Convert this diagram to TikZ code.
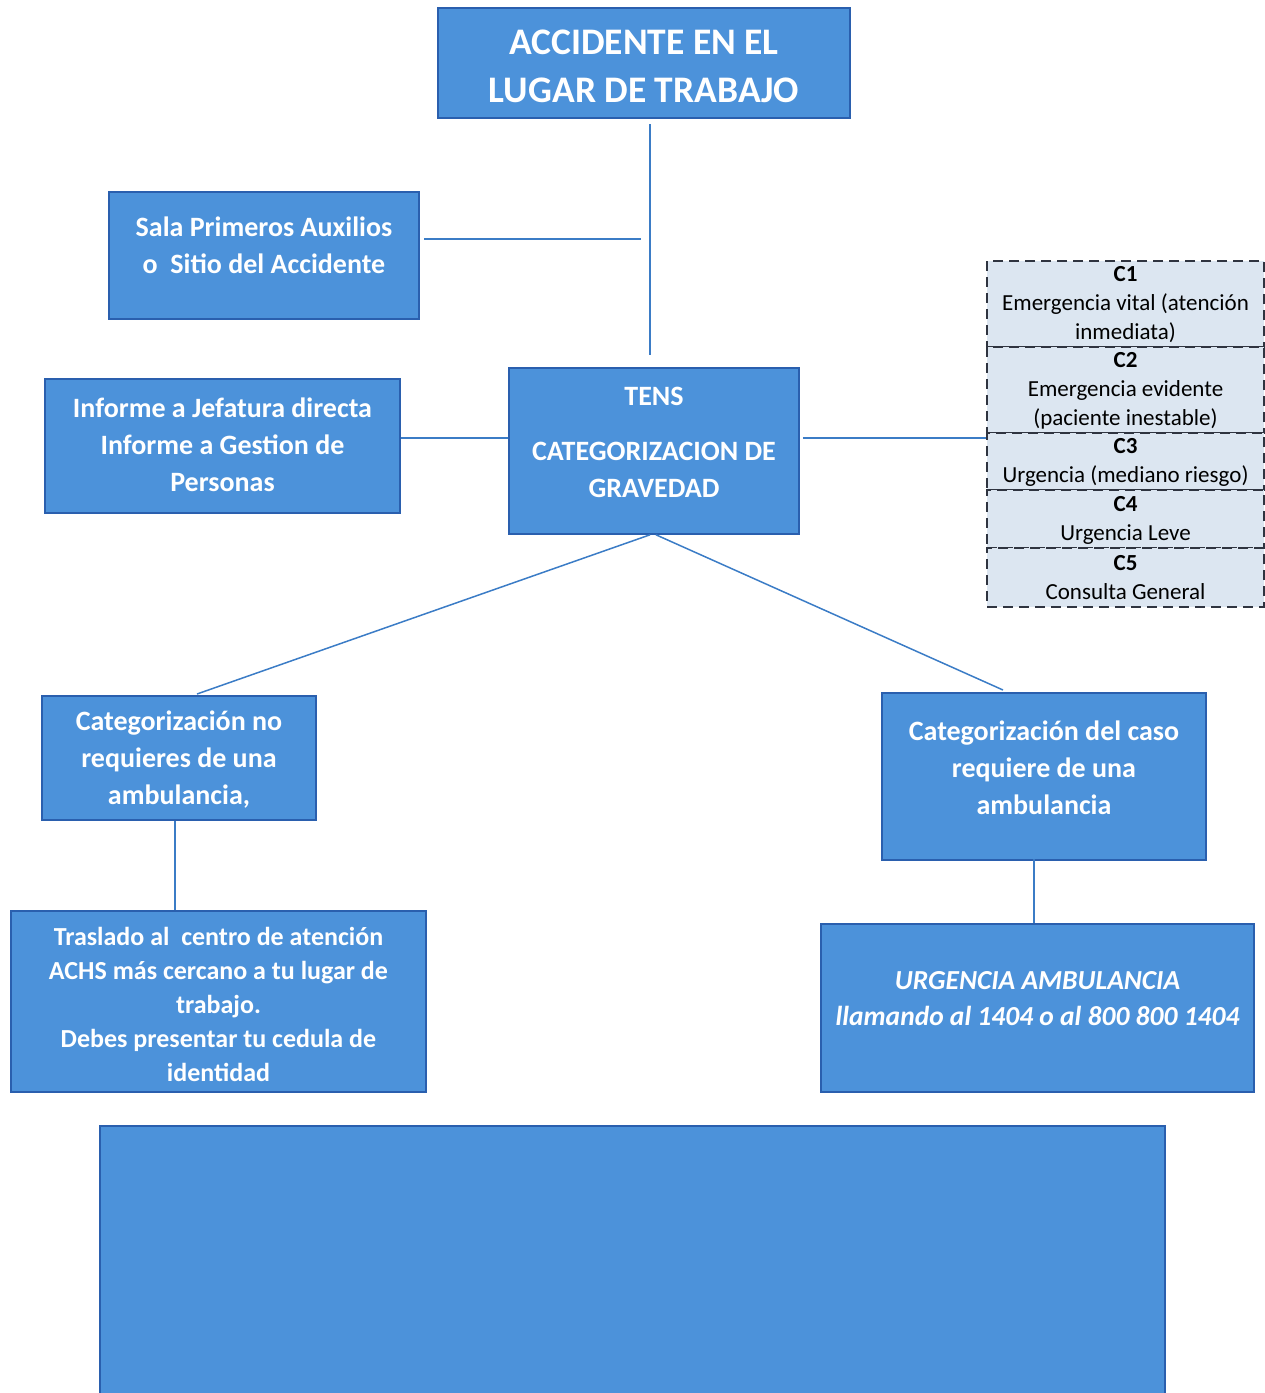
\documentclass[tikz,border=0pt]{standalone}
\usepackage{fontspec}
\setmainfont{Carlito}
\definecolor{boxfill}{HTML}{4C92DA}
\definecolor{boxline}{HTML}{2A5FAE}
\definecolor{connc}{HTML}{3B7CC6}
\definecolor{cfill}{HTML}{DCE6F1}
\definecolor{cline}{HTML}{2F3440}
\begin{document}
\begin{tikzpicture}[x=1pt,y=-1pt,
  bluebox/.style={draw=boxline,fill=boxfill,line width=1.6pt,inner sep=0pt},
  wtxt/.style={text=white,font=\bfseries\fontsize{28}{37}\selectfont,align=center,inner sep=0pt},
  conn/.style={draw=connc,line width=1.5pt},
  cbox/.style={draw=cline,fill=cfill,dashed,dash pattern=on 10pt off 6pt,line width=1.6pt,inner sep=0pt,minimum width=277pt},
  ctxt/.style={text=black,font=\fontsize{23}{29}\selectfont,align=center,inner sep=0pt}]
\useasboundingbox (0,0) rectangle (1265,1393);

% boxes
\node[bluebox,minimum width=412pt,minimum height=110pt] (top) at (644,63) {};
\node[wtxt,font=\bfseries\fontsize{37.5}{48}\selectfont] (topT) at (644,66) {ACCIDENTE EN EL\\LUGAR DE TRABAJO};

\node[bluebox,minimum width=310pt,minimum height=127pt] (sala) at (264,255.5) {};
\node[wtxt] (salaT) at (264,245.5) {Sala Primeros Auxilios\\o\ \ Sitio del Accidente};

\node[bluebox,minimum width=355pt,minimum height=134pt] (inf) at (222.5,446) {};
\node[wtxt] (infT) at (222.5,445) {Informe a Jefatura directa\\Informe a Gestion de\\Personas};

\node[bluebox,minimum width=290pt,minimum height=166pt] (tens) at (654,451) {};
\node[wtxt] (tensT) at (654,442) {TENS\\[18pt]CATEGORIZACION DE\\GRAVEDAD};

\node[bluebox,minimum width=274pt,minimum height=124pt] (noamb) at (179,758) {};
\node[wtxt] (noambT) at (179,760) {Categorización no\\requieres de una\\ambulancia,};

\node[bluebox,minimum width=324pt,minimum height=167pt] (amb) at (1044,776.5) {};
\node[wtxt] (ambT) at (1044,767.5) {Categorización del caso\\requiere de una\\ambulancia};

\node[bluebox,minimum width=415pt,minimum height=181pt] (tras) at (218.5,1001.5) {};
\node[wtxt,font=\bfseries\fontsize{26}{34}\selectfont] (trasT) at (218.5,1004.5) {Traslado al\ \ centro de atención\\ACHS más cercano a tu lugar de\\trabajo.\\Debes presentar tu cedula de\\identidad};

\node[bluebox,minimum width=433pt,minimum height=168pt] (urg) at (1037.5,1008) {};
\node[wtxt,font=\bfseries\itshape\fontsize{27.5}{36}\selectfont] (urgT) at (1037.5,999) {URGENCIA AMBULANCIA\\llamando al 1404 o al 800 800 1404};

\node[bluebox,minimum width=1065pt,minimum height=280pt] (bottom) at (632.5,1266) {};

% categories
\node[cbox,minimum height=86pt] (c1) at (1125.5,304) {};
\node[cbox,minimum height=86pt] (c2) at (1125.5,390) {};
\node[cbox,minimum height=57pt] (c3) at (1125.5,461.5) {};
\node[cbox,minimum height=58pt] (c4) at (1125.5,519) {};
\node[cbox,minimum height=59pt] (c5) at (1125.5,577.5) {};
\node[ctxt] (c1T) at (1125.5,305) {\textbf{C1}\\Emergencia vital (atención\\inmediata)};
\node[ctxt] (c2T) at (1125.5,391) {\textbf{C2}\\Emergencia evidente\\(paciente inestable)};
\node[ctxt] (c3T) at (1125.5,462.5) {\textbf{C3}\\Urgencia (mediano riesgo)};
\node[ctxt] (c4T) at (1125.5,520.5) {\textbf{C4}\\Urgencia Leve};
\node[ctxt] (c5T) at (1125.5,577.5) {\textbf{C5}\\Consulta General};

% connectors
\coordinate (v1) at (650,124);
\coordinate (v2) at (650,355);
\coordinate (h1) at (641,239);
\coordinate (h0) at (424,239);
\draw[conn] (v1) -- (v2);
\draw[conn] (h0) -- (h1);
\draw[conn] (inf.east |- 0,438) -- (tens.west |- 0,438);
\draw[conn] ([xshift=3pt]tens.east |- 0,438) -- (c3.west |- 0,438);
\draw[conn] ([xshift=-4pt]tens.south) -- (197,694);
\draw[conn] ([xshift=2pt]tens.south) -- (1003,690);
\draw[conn] (noamb.south -| 175,0) -- (tras.north -| 175,0);
\draw[conn] ([yshift=2pt]amb.south -| 1034,0) -- (urg.north -| 1034,0);
\end{tikzpicture}
\end{document}
